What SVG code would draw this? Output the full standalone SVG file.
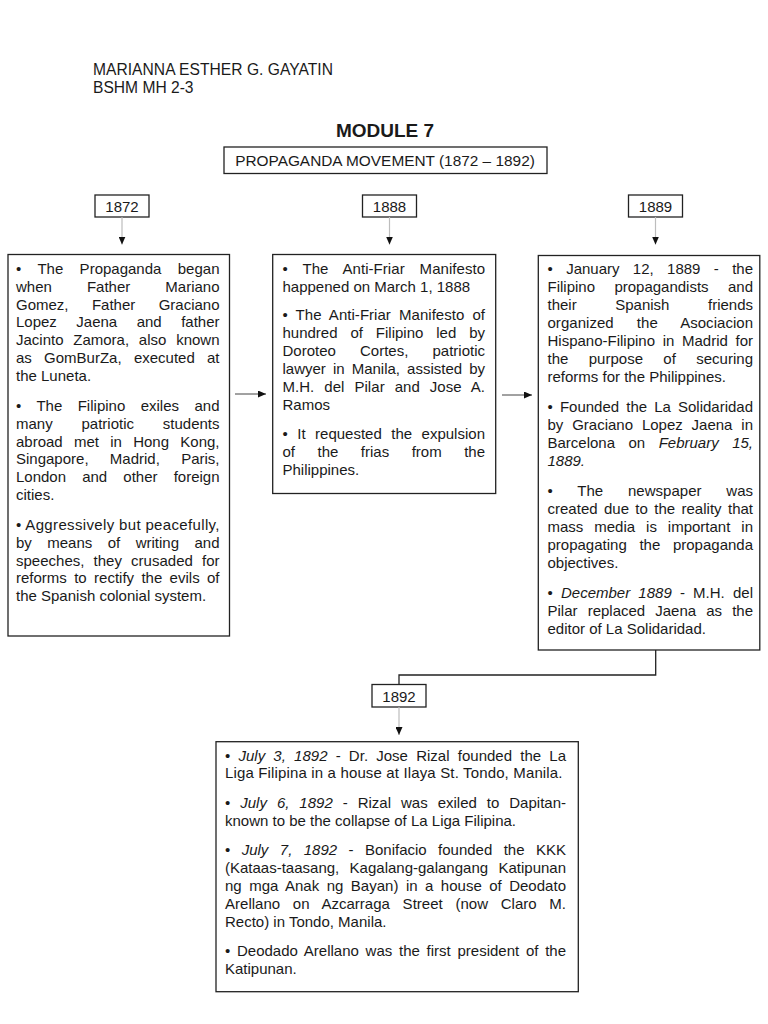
<svg xmlns="http://www.w3.org/2000/svg" width="768" height="1024" viewBox="0 0 768 1024">
<style>
text{font-family:"Liberation Sans",Arial,sans-serif;fill:#1a1a1a;}
.t{font-size:15px;}
.i{font-style:italic;}
.box{fill:#fff;stroke:#222;stroke-width:1.3;}
.vl{stroke:#bdbdbd;stroke-width:1.2;fill:none;}
.hl{stroke:#444;stroke-width:1;fill:none;}
.el{stroke:#222;stroke-width:1.3;fill:none;}
</style>
<defs>
<marker id="ah" markerUnits="userSpaceOnUse" markerWidth="8" markerHeight="7" refX="8" refY="3.5" orient="auto">
<path d="M0,0 L8,3.5 L0,7 z" fill="#111"/>
</marker>
</defs>
<rect width="768" height="1024" fill="#fff"/>

<g id="header">
<text x="93" y="74.5" style="font-size:15.6px" textLength="240" lengthAdjust="spacing">MARIANNA ESTHER G. GAYATIN</text>
<text x="93" y="92.5" style="font-size:15.6px">BSHM MH 2-3</text>
<text x="385" y="137" text-anchor="middle" style="font-size:19px;font-weight:bold">MODULE 7</text>
</g>

<g id="title">
<rect class="box" x="224" y="147" width="323" height="26.5"/>
<text x="385" y="165.5" text-anchor="middle" style="font-size:15.4px">PROPAGANDA MOVEMENT (1872 – 1892)</text>
</g>

<g id="y1872">
<rect class="box" x="95" y="195" width="54" height="22"/>
<text class="t" x="122" y="211.5" text-anchor="middle">1872</text>
</g>
<g id="y1888">
<rect class="box" x="362.5" y="195" width="54" height="22"/>
<text class="t" x="389.5" y="211.5" text-anchor="middle">1888</text>
</g>
<g id="y1889">
<rect class="box" x="628.5" y="195" width="54" height="22"/>
<text class="t" x="655.5" y="211.5" text-anchor="middle">1889</text>
</g>
<g id="y1892">
<rect class="box" x="372" y="684.5" width="54" height="22.5"/>
<text class="t" x="399" y="701.5" text-anchor="middle">1892</text>
</g>

<g id="connectors">
<line class="vl" x1="122" y1="217" x2="122" y2="244.5" marker-end="url(#ah)"/>
<line class="vl" x1="389.5" y1="217" x2="389.5" y2="244.5" marker-end="url(#ah)"/>
<line class="vl" x1="655.5" y1="217" x2="655.5" y2="244.5" marker-end="url(#ah)"/>
<line class="vl" x1="399" y1="707" x2="399" y2="735" marker-end="url(#ah)"/>
<line class="hl" x1="235" y1="394" x2="266" y2="394" marker-end="url(#ah)"/>
<line class="hl" x1="502" y1="395" x2="532" y2="395" marker-end="url(#ah)"/>
<polyline class="el" points="655.7,650 655.7,675 399,675 399,684.5"/>
</g>

<g id="box1872">
<rect class="box" x="8" y="254.5" width="221.5" height="381.5"/>
<g class="t">
<text x="16" y="274" textLength="203.5" lengthAdjust="spacing" style="word-spacing:12.2px">• The Propaganda began</text>
<text x="16" y="291.8" textLength="203.5" lengthAdjust="spacing" style="word-spacing:30.9px">when Father Mariano</text>
<text x="16" y="309.6" textLength="203.5" lengthAdjust="spacing" style="word-spacing:19.2px">Gomez, Father Graciano</text>
<text x="16" y="327.4" textLength="203.5" lengthAdjust="spacing" style="word-spacing:15.3px">Lopez Jaena and father</text>
<text x="16" y="345.2" textLength="203.5" lengthAdjust="spacing" style="word-spacing:5.6px">Jacinto Zamora, also known</text>
<text x="16" y="363" textLength="203.5" lengthAdjust="spacing" style="word-spacing:8.1px">as GomBurZa, executed at</text>
<text x="16" y="380.8">the Luneta.</text>
<text x="16" y="411" textLength="203.5" lengthAdjust="spacing" style="word-spacing:11.2px">• The Filipino exiles and</text>
<text x="16" y="428.8" textLength="203.5" lengthAdjust="spacing" style="word-spacing:24.6px">many patriotic students</text>
<text x="16" y="446.6" textLength="203.5" lengthAdjust="spacing" style="word-spacing:7.1px">abroad met in Hong Kong,</text>
<text x="16" y="464.4" textLength="203.5" lengthAdjust="spacing" style="word-spacing:17.1px">Singapore, Madrid, Paris,</text>
<text x="16" y="482.2" textLength="203.5" lengthAdjust="spacing" style="word-spacing:12px">London and other foreign</text>
<text x="16" y="500">cities.</text>
<text x="16" y="530" textLength="203.5" lengthAdjust="spacing">• Aggressively but peacefully,</text>
<text x="16" y="547.8" textLength="203.5" lengthAdjust="spacing" style="word-spacing:11.3px">by means of writing and</text>
<text x="16" y="565.6" textLength="203.5" lengthAdjust="spacing" style="word-spacing:5px">speeches, they crusaded for</text>
<text x="16" y="583.4" textLength="203.5" lengthAdjust="spacing" style="word-spacing:3.2px">reforms to rectify the evils of</text>
<text x="16" y="601.2">the Spanish colonial system.</text>
</g>
</g>

<g id="box1888">
<rect class="box" x="272.7" y="254.5" width="223" height="239"/>
<g class="t">
<text x="282.5" y="273.5" textLength="202.5" lengthAdjust="spacing" style="word-spacing:10.7px">• The Anti-Friar Manifesto</text>
<text x="282.5" y="291.5">happened on March 1, 1888</text>
<text x="282.5" y="320" textLength="202.5" lengthAdjust="spacing" style="word-spacing:3.9px">• The Anti-Friar Manifesto of</text>
<text x="282.5" y="338" textLength="202.5" lengthAdjust="spacing" style="word-spacing:8.7px">hundred of Filipino led by</text>
<text x="282.5" y="356" textLength="202.5" lengthAdjust="spacing" style="word-spacing:20px">Doroteo Cortes, patriotic</text>
<text x="282.5" y="374" textLength="202.5" lengthAdjust="spacing" style="word-spacing:2.9px">lawyer in Manila, assisted by</text>
<text x="282.5" y="392" textLength="202.5" lengthAdjust="spacing" style="word-spacing:5.8px">M.H. del Pilar and Jose A.</text>
<text x="282.5" y="410">Ramos</text>
<text x="282.5" y="439" textLength="202.5" lengthAdjust="spacing" style="word-spacing:5.3px">• It requested the expulsion</text>
<text x="282.5" y="457" textLength="202.5" lengthAdjust="spacing" style="word-spacing:18.3px">of the frias from the</text>
<text x="282.5" y="475">Philippines.</text>
</g>
</g>

<g id="box1889">
<rect class="box" x="538.3" y="255.5" width="221.5" height="394.5"/>
<g class="t">
<text x="547.5" y="274" textLength="205.5" lengthAdjust="spacing" style="word-spacing:9.2px">• January 12, 1889 - the</text>
<text x="547.5" y="292" textLength="205.5" lengthAdjust="spacing" style="word-spacing:15.2px">Filipino propagandists and</text>
<text x="547.5" y="310" textLength="205.5" lengthAdjust="spacing" style="word-spacing:34.4px">their Spanish friends</text>
<text x="547.5" y="328" textLength="205.5" lengthAdjust="spacing" style="word-spacing:19px">organized the Asociacion</text>
<text x="547.5" y="346" textLength="205.5" lengthAdjust="spacing" style="word-spacing:3.5px">Hispano-Filipino in Madrid for</text>
<text x="547.5" y="364" textLength="205.5" lengthAdjust="spacing" style="word-spacing:16.2px">the purpose of securing</text>
<text x="547.5" y="382">reforms for the Philippines.</text>
<text x="547.5" y="412" textLength="205.5" lengthAdjust="spacing" style="word-spacing:3px">• Founded the La Solidaridad</text>
<text x="547.5" y="430" textLength="205.5" lengthAdjust="spacing" style="word-spacing:4.7px">by Graciano Lopez Jaena in</text>
<text x="547.5" y="448" textLength="205.5" lengthAdjust="spacing" style="word-spacing:9.3px">Barcelona on <tspan class="i">February 15,</tspan></text>
<text x="547.5" y="466" class="i">1889.</text>
<text x="547.5" y="496" textLength="205.5" lengthAdjust="spacing" style="word-spacing:20.6px">• The newspaper was</text>
<text x="547.5" y="514" textLength="205.5" lengthAdjust="spacing" style="word-spacing:2.2px">created due to the reality that</text>
<text x="547.5" y="532" textLength="205.5" lengthAdjust="spacing" style="word-spacing:6.8px">mass media is important in</text>
<text x="547.5" y="550" textLength="205.5" lengthAdjust="spacing" style="word-spacing:8.5px">propagating the propaganda</text>
<text x="547.5" y="568">objectives.</text>
<text x="547.5" y="598" textLength="205.5" lengthAdjust="spacing" style="word-spacing:4px">• <tspan class="i">December 1889</tspan> - M.H. del</text>
<text x="547.5" y="616" textLength="205.5" lengthAdjust="spacing" style="word-spacing:5.9px">Pilar replaced Jaena as the</text>
<text x="547.5" y="634">editor of La Solidaridad.</text>
</g>
</g>

<g id="box1892">
<rect class="box" x="216" y="741.7" width="362.3" height="250"/>
<g class="t">
<text x="225" y="760.5" textLength="341" lengthAdjust="spacing" style="word-spacing:4px">• <tspan class="i">July 3, 1892</tspan> - Dr. Jose Rizal founded the La</text>
<text x="225" y="778.3" textLength="337.5" lengthAdjust="spacing">Liga Filipina in a house at Ilaya St. Tondo, Manila.</text>
<text x="225" y="808" textLength="341" lengthAdjust="spacing" style="word-spacing:5.8px">• <tspan class="i">July 6, 1892</tspan> - Rizal was exiled to Dapitan-</text>
<text x="225" y="826">known to be the collapse of La Liga Filipina.</text>
<text x="225" y="855" textLength="341" lengthAdjust="spacing" style="word-spacing:7.3px">• <tspan class="i">July 7, 1892</tspan> - Bonifacio founded the KKK</text>
<text x="225" y="872.8" textLength="341" lengthAdjust="spacing" style="word-spacing:6.2px">(Kataas-taasang, Kagalang-galangang Katipunan</text>
<text x="225" y="890.8" textLength="341" lengthAdjust="spacing" style="word-spacing:3.2px">ng mga Anak ng Bayan) in a house of Deodato</text>
<text x="225" y="909" textLength="341" lengthAdjust="spacing" style="word-spacing:8.5px">Arellano on Azcarraga Street (now Claro M.</text>
<text x="225" y="926.7">Recto) in Tondo, Manila.</text>
<text x="225" y="956" textLength="341" lengthAdjust="spacing" style="word-spacing:2.5px">• Deodado Arellano was the first president of the</text>
<text x="225" y="973.5">Katipunan.</text>
</g>
</g>
</svg>
